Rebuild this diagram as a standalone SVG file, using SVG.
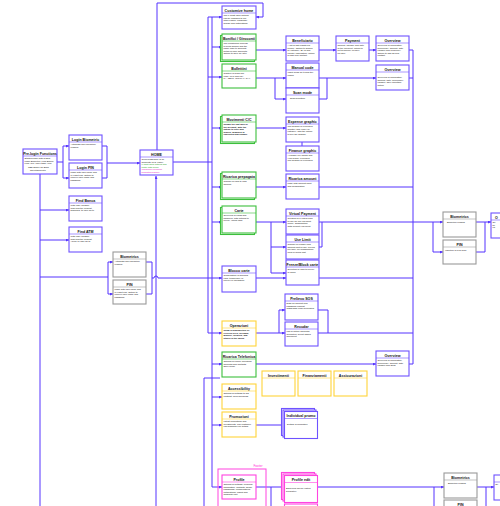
<svg xmlns="http://www.w3.org/2000/svg" width="500" height="506" viewBox="0 0 500 506">
<style>
text{font-family:"Liberation Sans",Arial,sans-serif;fill:#111}
.t{font-size:3.6px;font-weight:bold;text-anchor:middle}
.b{font-size:2.3px}
.bb{font-size:2.3px;font-weight:bold}
.box{fill:#fff;stroke:#6e52ff;stroke-width:1.1}
.grn{fill:#fff;stroke:#3cbf3c;stroke-width:1.1}
.yel{fill:#fff;stroke:#ffd43a;stroke-width:1.1}
.pnk{fill:#fff;stroke:#ff44e0;stroke-width:1.1}
.gry{fill:#fff;stroke:#9a9a9a;stroke-width:1.1}
.sep{stroke-width:0.6}
.c{fill:none;stroke:#5533ff;stroke-width:1}
</style>
<defs>
<marker id="a" viewBox="0 0 6 6" refX="6" refY="3" markerWidth="3" markerHeight="3" orient="auto"><path d="M0,0L6,3L0,6z" fill="#5533ff"/></marker>
</defs>
<rect width="500" height="506" fill="#fff"/>

<g id="connectors">
<path class="c" d="M57,162H63M63,146V178" />
<path class="c" d="M63,146H69" marker-end="url(#a)"/>
<path class="c" d="M63,178H69" marker-end="url(#a)"/>
<path class="c" d="M102,146H107V178H102M107,163H140" marker-end="url(#a)"/>
<path class="c" d="M40,174V506"/>
<path class="c" d="M40,210H69" marker-end="url(#a)"/>
<path class="c" d="M40,240H69" marker-end="url(#a)"/>
<path class="c" d="M40,277H108M108,262V294"/>
<path class="c" d="M108,262H113" marker-end="url(#a)"/>
<path class="c" d="M108,294H113" marker-end="url(#a)"/>
<path class="c" d="M146,262H152V294H146M152,278H154a2,2 0 0 1 4,0H222" marker-end="url(#a)"/>
<path class="c" d="M157,150V3H263V17H256" marker-end="url(#a)"/>
<path class="c" d="M156,506V176" marker-end="url(#a)"/>
<path class="c" d="M173,162H212"/>
<path class="c" d="M212,17V487M208,17V333"/>
<path class="c" d="M208,17H222" marker-end="url(#a)"/>
<path class="c" d="M212,47H222" marker-end="url(#a)"/>
<path class="c" d="M208,77H222" marker-end="url(#a)"/>
<path class="c" d="M212,128H222" marker-end="url(#a)"/>
<path class="c" d="M212,187H222" marker-end="url(#a)"/>
<path class="c" d="M212,222H222" marker-end="url(#a)"/>
<path class="c" d="M208,333H222" marker-end="url(#a)"/>
<path class="c" d="M212,364H222" marker-end="url(#a)"/>
<path class="c" d="M204,506V378H220"/>
<path class="c" d="M212,397H222" marker-end="url(#a)"/>
<path class="c" d="M212,425H222" marker-end="url(#a)"/>
<path class="c" d="M212,487H222" marker-end="url(#a)"/>
<path class="c" d="M256,50H286" marker-end="url(#a)"/>
<path class="c" d="M319,50H336" marker-end="url(#a)"/>
<path class="c" d="M369,50H376" marker-end="url(#a)"/>
<path class="c" d="M409,50H413V364H409"/>
<path class="c" d="M256,78H286" marker-end="url(#a)"/>
<path class="c" d="M275,78V99H286" marker-end="url(#a)"/>
<path class="c" d="M319,99H327V78H319M327,78H376" marker-end="url(#a)"/>
<path class="c" d="M409,78H413"/>
<path class="c" d="M256,128H286" marker-end="url(#a)"/>
<path class="c" d="M302,142V146"/>
<path class="c" d="M256,187H286" marker-end="url(#a)"/>
<path class="c" d="M319,187H413"/>
<path class="c" d="M256,222H286" marker-end="url(#a)"/>
<path class="c" d="M271,222V273M271,247H286" marker-end="url(#a)"/>
<path class="c" d="M271,273H286" marker-end="url(#a)"/>
<path class="c" d="M319,247H322V222H319M322,222H443" marker-end="url(#a)"/>
<path class="c" d="M433,222V252H443" marker-end="url(#a)"/>
<path class="c" d="M476,222H485V252H476M485,222H491" marker-end="url(#a)"/>
<path class="c" d="M256,278H286" marker-end="url(#a)"/>
<path class="c" d="M319,278H413"/>
<path class="c" d="M256,333H285" marker-end="url(#a)"/>
<path class="c" d="M279,333V310H285" marker-end="url(#a)"/>
<path class="c" d="M318,310H328V333M318,333H413"/>
<path class="c" d="M256,364H376" marker-end="url(#a)"/>
<path class="c" d="M256,425H284" marker-end="url(#a)"/>
<path class="c" d="M256,487H284" marker-end="url(#a)"/>
<path class="c" d="M271,487V506"/>
<path class="c" d="M317,487H444" marker-end="url(#a)"/>
<path class="c" d="M434,487V506"/>
<path class="c" d="M477,487H486V506M486,487H494" marker-end="url(#a)"/>
</g>

<g id="prelogin"><rect class="box" x="23" y="149" width="34" height="25"/><line class="box sep" x1="23" y1="156" x2="57" y2="156"/><text class="t" x="40" y="154.5">Pre-login Functions</text><text class="b" x="24.5" y="159">Starting page with 3 tabs:</text><text class="b" x="24.5" y="161.5">Login Biometric, Find Banca,</text><text class="b" x="24.5" y="164">Find ATM. More tabs: Help</text><text class="b" x="28" y="168">TBD Space for Bank</text><text class="b" x="30" y="170.5">advertisement?</text></g>
<g id="loginbio"><rect class="box" x="69" y="135" width="33" height="25"/><line class="box sep" x1="69" y1="142" x2="102" y2="142"/><text class="t" x="85.5" y="140.5">Login Biometric</text><text class="b" x="70.5" y="145">Automatic face biometric</text><text class="b" x="70.5" y="147.5">reading</text></g>
<g id="loginpin"><rect class="box" x="69" y="163" width="33" height="25"/><line class="box sep" x1="69" y1="170" x2="102" y2="170"/><text class="t" x="85.5" y="168.5">Login PIN</text><text class="b" x="70.5" y="173">Login with user name and</text><text class="b" x="70.5" y="175.5">a 6 digit PIN. Option to</text><text class="b" x="70.5" y="178">retrieve user name and</text><text class="b" x="70.5" y="180.5">password</text></g>
<g id="findbanca"><rect class="box" x="69" y="196" width="33" height="25"/><line class="box sep" x1="69" y1="203" x2="102" y2="203"/><text class="t" x="85.5" y="201.5">Find Banca</text><text class="b" x="70.5" y="206">With easy location,</text><text class="b" x="70.5" y="208.5">map and the nearest</text><text class="b" x="70.5" y="211">branches, to user go to</text></g>
<g id="findatm"><rect class="box" x="69" y="227" width="33" height="25"/><line class="box sep" x1="69" y1="234" x2="102" y2="234"/><text class="t" x="85.5" y="232.5">Find ATM</text><text class="b" x="70.5" y="237">With easy location,</text><text class="b" x="70.5" y="239.5">map and the nearest</text><text class="b" x="70.5" y="242">ATMs, to user go to</text></g>
<g id="biometrics-left"><rect class="gry" x="113" y="252" width="33" height="25"/><line class="gry sep" x1="113" y1="259" x2="146" y2="259"/><text class="t" x="129.5" y="257.5">Biometrics</text><text class="b" x="114.5" y="262">Automatic face biometric</text><text class="b" x="114.5" y="264.5">reading</text></g>
<g id="pin-left"><rect class="gry" x="113" y="280" width="33" height="24"/><line class="gry sep" x1="113" y1="287" x2="146" y2="287"/><text class="t" x="129.5" y="285.5">PIN</text><text class="b" x="114.5" y="290">Login with user name and</text><text class="b" x="114.5" y="292.5">a 6 digit PIN. Option to</text><text class="b" x="114.5" y="295">retrieve user name and</text><text class="b" x="114.5" y="297.5">password</text></g>
<g id="home"><rect class="box" x="140" y="150" width="33" height="25"/><line class="box sep" x1="140" y1="157" x2="173" y2="157"/><text class="t" x="156.5" y="155.5">HOME</text><text class="b" x="141.5" y="160">General Balance of all</text><text class="b" x="141.5" y="162.5">accounts (C/C, carte)</text><text class="b" x="141.5" y="165" style="fill:#1a9a1a">6 most used options and</text><text class="b" x="141.5" y="167.5" style="fill:#1a9a1a">footer with menu</text><text class="b" x="141.5" y="170" style="fill:#e020c0">Including a personal</text><text class="b" x="141.5" y="172.5" style="fill:#e020c0">promotion banner</text></g>
<g id="customize"><rect class="box" x="222" y="6" width="34" height="23"/><line class="box sep" x1="222" y1="13" x2="256" y2="13"/><text class="t" x="239" y="11.5">Customize home</text><text class="b" x="223.5" y="16">The 6 most used options</text><text class="b" x="223.5" y="18.5">can be changed to our</text><text class="b" x="223.5" y="21">other pages. Language,</text><text class="b" x="223.5" y="23.5">design and notifications</text></g>
<g id="bonifici"><rect class="grn" x="220.5" y="35.5" width="34" height="26"/><rect class="grn" x="222" y="34" width="34" height="26"/><line class="grn sep" x1="222" y1="41" x2="256" y2="41"/><text class="t" x="239" y="39.5">Bonifici / Giroconti</text><text class="b" x="223.5" y="44">The conditional process</text><text class="b" x="223.5" y="46.5">to send bonifici and the</text><text class="b" x="223.5" y="49">same logic to giroconti</text><text class="b" x="223.5" y="51.5">between own accounts.</text><text class="b" x="223.5" y="54">Option to save for later</text></g>
<g id="bollettini"><rect class="grn" x="222" y="64" width="34" height="24"/><line class="grn sep" x1="222" y1="71" x2="256" y2="71"/><text class="t" x="239" y="69.5">Bollettini</text><text class="b" x="223.5" y="74">Capture of bank slip</text><text class="b" x="223.5" y="76.5">code, fill in and pay.</text><text class="b" x="223.5" y="79">PA, CBILL, and MAV, RAV</text></g>
<g id="movimenti"><rect class="grn" x="220.5" y="116.5" width="34" height="27"/><rect class="grn" x="222" y="115" width="34" height="27"/><line class="grn sep" x1="222" y1="122" x2="256" y2="122"/><text class="t" x="239" y="120.5">Movimenti C/C</text><text class="bb" x="223.5" y="125">Shows the last mov of</text><text class="bb" x="223.5" y="127.5">the account, with the</text><text class="bb" x="223.5" y="130">option to filter and</text><text class="bb" x="223.5" y="132.5">search, graphics of</text><text class="bb" x="223.5" y="135">expenses and finance</text></g>
<g id="ricarica-prepagata"><rect class="grn" x="220.5" y="173.5" width="34" height="26"/><rect class="grn" x="222" y="172" width="34" height="26"/><line class="grn sep" x1="222" y1="179" x2="256" y2="179"/><text class="t" x="239" y="177.5">Ricarica prepagata</text><text class="b" x="223.5" y="182">Choose of card to load</text><text class="b" x="223.5" y="184.5">amount</text></g>
<g id="carte"><rect class="grn" x="220.5" y="207.5" width="34" height="27"/><rect class="grn" x="222" y="206" width="34" height="27"/><line class="grn sep" x1="222" y1="213" x2="256" y2="213"/><text class="t" x="239" y="211.5">Carte</text><text class="b" x="223.5" y="216">Overview of cards and</text><text class="b" x="223.5" y="218.5">balances, with options to</text><text class="b" x="223.5" y="221">freeze, virtual card</text></g>
<g id="blocco-carte"><rect class="box" x="222" y="266" width="34" height="26"/><line class="box sep" x1="222" y1="273" x2="256" y2="273"/><text class="t" x="239" y="271.5">Blocco carte</text><text class="b" x="223.5" y="276">Confirmation of blocking</text><text class="b" x="223.5" y="278.5">card, temporarily or</text><text class="b" x="223.5" y="281">forever in navigation</text></g>
<g id="operazioni"><rect class="yel" x="222" y="321" width="34" height="25"/><line class="yel sep" x1="222" y1="328" x2="256" y2="328"/><text class="t" x="239" y="326.5">Operazioni</text><text class="bb" x="223.5" y="331">Show of possibilities of</text><text class="bb" x="223.5" y="333.5">Prelievo SOS, Recudar,</text><text class="bb" x="223.5" y="336">Bonifici, Ricarica, and</text><text class="bb" x="223.5" y="338.5">others in the menu</text></g>
<g id="ricarica-telefonica"><rect class="grn" x="222" y="352" width="34" height="25"/><line class="grn sep" x1="222" y1="359" x2="256" y2="359"/><text class="t" x="239" y="357.5">Ricarica Telefonica</text><text class="b" x="223.5" y="362">Options of phone operators,</text><text class="b" x="223.5" y="364.5">amounts and contacts.</text><text class="b" x="223.5" y="367">Save mode</text></g>
<g id="accessibility"><rect class="yel" x="222" y="384" width="34" height="25"/><line class="yel sep" x1="222" y1="391" x2="256" y2="391"/><text class="t" x="239" y="389.5">Accessibility</text><text class="b" x="223.5" y="394">Options of settings to big</text><text class="b" x="223.5" y="396.5">contrast, color blindness</text></g>
<g id="promozioni"><rect class="yel" x="222" y="412" width="34" height="25"/><line class="yel sep" x1="222" y1="419" x2="256" y2="419"/><text class="t" x="239" y="417.5">Promozioni</text><text class="b" x="223.5" y="422">Latest promotions and</text><text class="b" x="223.5" y="424.5">investments. The customer</text><text class="b" x="223.5" y="427">can subscribe for details</text></g>
<g id="footer"><rect x="218" y="469" width="48" height="45" fill="none" stroke="#ff44e0" stroke-width="1"/><text x="258" y="467" style="font-size:3.2px;fill:#ff30d8;text-anchor:middle">Footer</text></g>
<g id="profile"><rect class="pnk" x="222" y="475" width="34" height="24"/><line class="pnk sep" x1="222" y1="482" x2="256" y2="482"/><text class="t" x="239" y="480.5">Profile</text><text class="b" x="223.5" y="485">Options of settings, personal</text><text class="b" x="223.5" y="487.5">information, contacts, social,</text><text class="b" x="223.5" y="490">passwords, configurations,</text><text class="b" x="223.5" y="492.5">notifications, logout and</text><text class="b" x="223.5" y="495">language edit</text></g>
<g id="beneficiario"><rect class="box" x="286" y="36" width="33" height="25"/><line class="box sep" x1="286" y1="43" x2="319" y2="43"/><text class="t" x="302.5" y="41.5">Beneficiario</text><text class="b" x="287.5" y="46">A list of last registered</text><text class="b" x="287.5" y="48.5">people. Option to search</text><text class="b" x="287.5" y="51">by category. IBAN and</text><text class="b" x="287.5" y="53.5">country information, option</text><text class="b" x="287.5" y="56">to add new contact</text></g>
<g id="payment"><rect class="box" x="336" y="36" width="33" height="25"/><line class="box sep" x1="336" y1="43" x2="369" y2="43"/><text class="t" x="352.5" y="41.5">Payment</text><text class="b" x="337.5" y="46">amount, causale and date</text><text class="b" x="337.5" y="48.5">of the payment, option to</text><text class="b" x="337.5" y="51">set frequency or save</text><text class="b" x="337.5" y="53.5">for later</text></g>
<g id="overview-1"><rect class="box" x="376" y="36" width="33" height="25"/><line class="box sep" x1="376" y1="43" x2="409" y2="43"/><text class="t" x="392.5" y="41.5">Overview</text><text class="b" x="377.5" y="46">Overview of information,</text><text class="b" x="377.5" y="48.5">beneficiary, amount, date,</text><text class="b" x="377.5" y="51">causale and frequency.</text><text class="b" x="377.5" y="53.5">Option to add as new</text><text class="b" x="377.5" y="56">contact</text></g>
<g id="manual-code"><rect class="box" x="286" y="63" width="33" height="25"/><line class="box sep" x1="286" y1="70" x2="319" y2="70"/><text class="t" x="302.5" y="68.5">Manual code</text><text class="b" x="287.5" y="73">Insert fields for typing the</text><text class="b" x="287.5" y="75.5">codes</text></g>
<g id="scan-mode"><rect class="box" x="286" y="88" width="33" height="25"/><line class="box sep" x1="286" y1="95" x2="319" y2="95"/><text class="t" x="302.5" y="93.5">Scan mode</text><text class="b" x="290" y="99">Scan bollettino</text></g>
<g id="overview-2"><rect class="box" x="376" y="65" width="33" height="25"/><line class="box sep" x1="376" y1="72" x2="409" y2="72"/><text class="t" x="392.5" y="70.5">Overview</text><text class="b" x="377.5" y="78">Overview of information,</text><text class="b" x="377.5" y="80.5">amount, date, beneficiary,</text><text class="b" x="377.5" y="83">causale, save bollettino</text><text class="b" x="377.5" y="85.5">option</text></g>
<g id="expense-graphic"><rect class="box" x="286" y="117" width="33" height="25"/><line class="box sep" x1="286" y1="124" x2="319" y2="124"/><text class="t" x="302.5" y="122.5">Expense graphic</text><text class="b" x="287.5" y="127">The graphic of expenses</text><text class="b" x="287.5" y="129.5">monthly and yearly by</text><text class="b" x="287.5" y="132">category, with the option</text><text class="b" x="287.5" y="134.5">to see the graphic</text></g>
<g id="finance-graphic"><rect class="box" x="286" y="146" width="33" height="25"/><line class="box sep" x1="286" y1="153" x2="319" y2="153"/><text class="t" x="302.5" y="151.5">Finance graphic</text><text class="b" x="287.5" y="156">Available per month and</text><text class="b" x="287.5" y="158.5">year graph, expenses</text><text class="b" x="287.5" y="161">The graphic of expenses</text></g>
<g id="ricarica-amount"><rect class="box" x="286" y="174" width="33" height="25"/><line class="box sep" x1="286" y1="181" x2="319" y2="181"/><text class="t" x="302.5" y="179.5">Ricarica amount</text><text class="b" x="287.5" y="184">Page with amount input</text><text class="b" x="287.5" y="186.5">and confirmation</text></g>
<g id="virtual-payment"><rect class="box" x="286" y="209" width="33" height="25"/><line class="box sep" x1="286" y1="216" x2="319" y2="216"/><text class="t" x="302.5" y="214.5">Virtual Payment</text><text class="b" x="287.5" y="219">Creation of a virtual card</text><text class="b" x="287.5" y="221.5">to use for one payment</text><text class="b" x="287.5" y="224">online. Subscription</text><text class="b" x="287.5" y="226.5">Total security payment</text></g>
<g id="use-limit"><rect class="box" x="286" y="235" width="33" height="24"/><line class="box sep" x1="286" y1="242" x2="319" y2="242"/><text class="t" x="302.5" y="240.5">Use Limit</text><text class="b" x="287.5" y="245">Choose of number and</text><text class="b" x="287.5" y="247.5">amount limit to use. Period</text><text class="b" x="287.5" y="250">per time, per subscription,</text><text class="b" x="287.5" y="252.5">local or world limit</text></g>
<g id="freeze-block"><rect class="box" x="286" y="260" width="33" height="25"/><line class="box sep" x1="286" y1="267" x2="319" y2="267"/><text class="t" x="302.5" y="265.5">Freeze/Block carte</text><text class="b" x="287.5" y="270">Selection of card to freeze</text><text class="b" x="287.5" y="272.5">or block</text></g>
<g id="prelievo-sos"><rect class="box" x="285" y="294" width="33" height="26"/><line class="box sep" x1="285" y1="301" x2="318" y2="301"/><text class="t" x="301.5" y="299.5">Prelievo SOS</text><text class="b" x="286.5" y="304">Data for amount and</text><text class="b" x="286.5" y="306.5">password request</text><text class="b" x="286.5" y="309">withdrawal code generated</text></g>
<g id="recudar"><rect class="box" x="285" y="322" width="33" height="24"/><line class="box sep" x1="285" y1="329" x2="318" y2="329"/><text class="t" x="301.5" y="327.5">Recudar</text><text class="b" x="286.5" y="332">List of option accounts</text><text class="b" x="286.5" y="334.5">deposited, select added</text><text class="b" x="286.5" y="337">document</text></g>
<g id="overview-3"><rect class="box" x="376" y="351" width="33" height="25"/><line class="box sep" x1="376" y1="358" x2="409" y2="358"/><text class="t" x="392.5" y="356.5">Overview</text><text class="b" x="377.5" y="361">Overview of information,</text><text class="b" x="377.5" y="363.5">beneficiary, amount, date,</text><text class="b" x="377.5" y="366">causale and SMS</text></g>
<g id="investimenti"><rect class="yel" x="262" y="371" width="33" height="25"/><line class="yel sep" x1="262" y1="378" x2="295" y2="378"/><text class="t" x="278.5" y="376.5">Investimenti</text></g>
<g id="finanziamenti"><rect class="yel" x="298" y="371" width="33" height="25"/><line class="yel sep" x1="298" y1="378" x2="331" y2="378"/><text class="t" x="314.5" y="376.5">Finanziamenti</text></g>
<g id="assicurazioni"><rect class="yel" x="334" y="371" width="33" height="25"/><line class="yel sep" x1="334" y1="378" x2="367" y2="378"/><text class="t" x="350.5" y="376.5">Assicurazioni</text></g>
<g id="individual-promo"><rect class="box" x="281.5" y="408.5" width="33" height="27"/><rect class="box" x="283" y="410" width="33" height="27"/><rect class="box" x="284.5" y="411.5" width="33" height="27"/><line class="box sep" x1="284.5" y1="418.5" x2="317.5" y2="418.5"/><text class="t" x="301" y="417">Individual promo</text><text class="b" x="287" y="425">Details of promotion</text></g>
<g id="profile-edit"><rect class="pnk" x="281.5" y="472.5" width="33" height="27"/><rect class="pnk" x="283" y="474" width="33" height="27"/><rect class="pnk" x="284.5" y="475.5" width="33" height="27"/><line class="pnk sep" x1="284.5" y1="482.5" x2="317.5" y2="482.5"/><text class="t" x="301" y="481">Profile edit</text><text class="b" x="286" y="489">Each field can be edited</text><text class="b" x="286" y="491.5">separately</text></g>
<g id="profile-sub"><rect class="pnk" x="284.5" y="504" width="33" height="10"/></g>
<g id="biometrics-right"><rect class="gry" x="443" y="212" width="33" height="25"/><line class="gry sep" x1="443" y1="219" x2="476" y2="219"/><text class="t" x="459.5" y="217.5">Biometrics</text><text class="b" x="447" y="223">Biometric reading</text></g>
<g id="pin-right"><rect class="gry" x="443" y="240" width="33" height="24"/><line class="gry sep" x1="443" y1="247" x2="476" y2="247"/><text class="t" x="459.5" y="245.5">PIN</text><text class="b" x="445" y="251">Insertion of PIN code</text></g>
<g id="overview-right-1"><rect class="box" x="491" y="213" width="33" height="25"/><line class="box sep" x1="491" y1="220" x2="524" y2="220"/><text class="t" x="496.5" y="218.5">O</text><text class="b" x="492.5" y="223">Ov</text><text class="b" x="492.5" y="225.5">be</text><text class="b" x="492.5" y="228">ca</text></g>
<g id="biometrics-right-2"><rect class="gry" x="444" y="473" width="33" height="25"/><line class="gry sep" x1="444" y1="480" x2="477" y2="480"/><text class="t" x="460.5" y="478.5">Biometrics</text><text class="b" x="448" y="484">Biometric reading</text></g>
<g id="pin-right-2"><rect class="gry" x="444" y="500" width="33" height="24"/><line class="gry sep" x1="444" y1="507" x2="477" y2="507"/><text class="t" x="460.5" y="505.5">PIN</text></g>
<g id="overview-right-2"><rect class="box" x="494" y="475" width="33" height="25"/><line class="box sep" x1="494" y1="482" x2="527" y2="482"/><text class="b" x="495.3" y="485">Ov</text></g>
</svg>
